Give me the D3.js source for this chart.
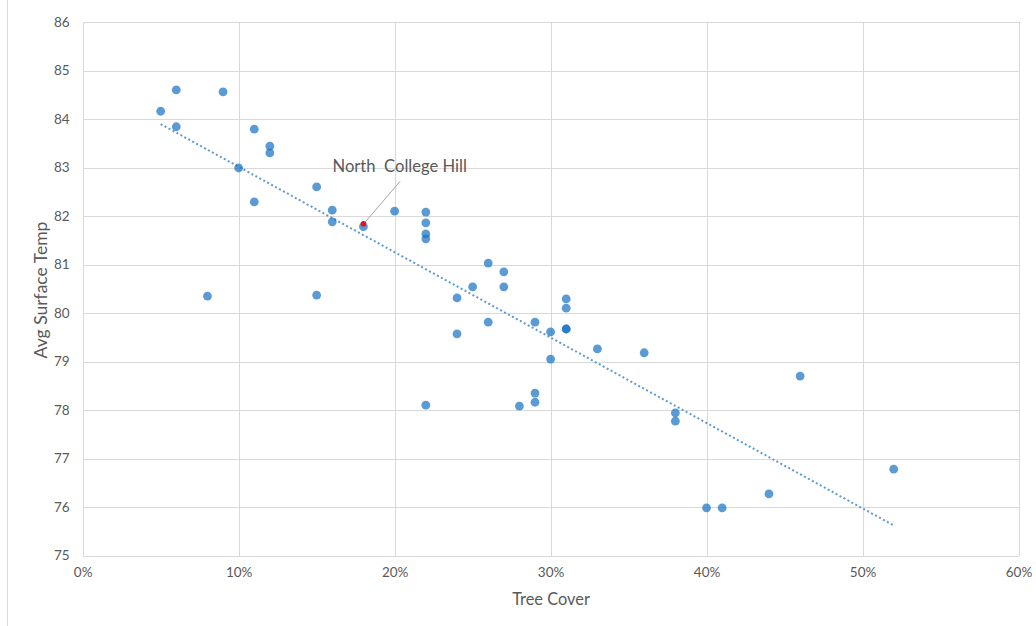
<!DOCTYPE html>
<html>
<head>
<meta charset="utf-8">
<script src="https://cdn.jsdelivr.net/npm/d3@7/dist/d3.min.js"></script>
<style>
  html, body { margin: 0; padding: 0; background: #fff; }
  svg { display: block; font-family: Lato, "Open Sans", sans-serif; }
</style>
</head>
<body>
<svg id="chart" width="1036" height="626"></svg>
<script>
// Tree cover share per neighbourhood and its average surface temperature (°F)
const treeCover = [0.05, 0.06, 0.06, 0.09, 0.11, 0.12, 0.12, 0.10, 0.11, 0.08,
  0.15, 0.15, 0.16, 0.16, 0.18, 0.20, 0.22, 0.22, 0.22, 0.22,
  0.22, 0.24, 0.24, 0.25, 0.26, 0.26, 0.27, 0.27, 0.28, 0.29,
  0.29, 0.29, 0.30, 0.30, 0.31, 0.31, 0.31, 0.31, 0.33, 0.36,
  0.38, 0.38, 0.40, 0.41, 0.44, 0.46, 0.52];
const surfaceTemp = [84.16, 84.60, 83.84, 84.56, 83.79, 83.44, 83.30, 82.99, 82.29, 80.35,
  82.60, 80.37, 82.12, 81.88, 81.78, 82.10, 82.08, 81.86, 81.63, 81.53,
  78.10, 80.31, 79.57, 80.54, 81.03, 79.81, 80.85, 80.54, 78.08, 79.81,
  78.35, 78.16, 79.61, 79.05, 80.29, 80.10, 79.67, 79.67, 79.26, 79.18,
  77.94, 77.77, 75.98, 75.98, 76.27, 78.70, 76.78];

// Highlighted neighbourhood
const highlightName = "North  College Hill";
const highlightCover = [0.18];
const highlightTemp = [81.84];

const xTicks = [0, 0.1, 0.2, 0.3, 0.4, 0.5, 0.6];
const yTicks = [75, 76, 77, 78, 79, 80, 81, 82, 83, 84, 85, 86];
const xTitle = "Tree Cover";
const yTitle = "Avg Surface Temp";

const points = treeCover.map((c, i) => ({ c, t: surfaceTemp[i] }));

const svg = d3.select("#chart");
const plotLeft = 82.7, plotRight = 1018.5, plotTop = 22, plotBottom = 555.5;
const gridColor = "#d9d9d9";
const textColor = "#595959";

const x = d3.scaleLinear().domain([0, 0.6]).range([plotLeft, plotRight]);
const y = d3.scaleLinear().domain([75, 86]).range([plotBottom, plotTop]);

// outer frame edge on the left
svg.append("line")
  .attr("x1", 7.5).attr("x2", 7.5).attr("y1", 0).attr("y2", 626)
  .attr("stroke", gridColor).attr("stroke-width", 1);

// horizontal gridlines + y tick labels
const yAxis = svg.append("g")
  .attr("transform", `translate(${plotLeft},0)`)
  .call(d3.axisLeft(y).tickValues(yTicks).tickSize(-(plotRight - plotLeft)).tickPadding(13).tickFormat(d3.format("d")));
yAxis.select(".domain").remove();
yAxis.selectAll(".tick line").attr("stroke", gridColor).attr("shape-rendering", "crispEdges");
yAxis.selectAll(".tick text").attr("fill", textColor).attr("font-size", 13.5).attr("font-family", "Lato, sans-serif");

// vertical gridlines + x tick labels
const xAxis = svg.append("g")
  .attr("transform", `translate(0,${plotBottom})`)
  .call(d3.axisBottom(x).tickValues(xTicks).tickSize(-(plotBottom - plotTop)).tickPadding(12).tickFormat(d3.format(".0%")));
xAxis.select(".domain").remove();
xAxis.selectAll(".tick line").attr("stroke", gridColor).attr("shape-rendering", "crispEdges");
xAxis.selectAll(".tick text").attr("fill", textColor).attr("font-size", 13.5).attr("font-family", "Lato, sans-serif");

// axis titles
svg.append("text")
  .attr("x", 551).attr("y", 605)
  .attr("text-anchor", "middle").attr("fill", textColor).attr("font-size", 16.4)
  .text(xTitle);
svg.append("text")
  .attr("transform", "translate(47,290) rotate(-90)")
  .attr("text-anchor", "middle").attr("fill", textColor).attr("font-size", 17.5)
  .text(yTitle);

// least-squares linear trend across the data range
const mx = d3.mean(points, d => d.c), my = d3.mean(points, d => d.t);
const slope = d3.sum(points, d => (d.c - mx) * (d.t - my)) / d3.sum(points, d => (d.c - mx) ** 2);
const intercept = my - slope * mx;
const [cMin, cMax] = d3.extent(points, d => d.c);
svg.append("line")
  .attr("x1", x(cMin)).attr("y1", y(intercept + slope * cMin))
  .attr("x2", x(cMax)).attr("y2", y(intercept + slope * cMax))
  .attr("stroke", "#5b9bd5").attr("stroke-width", 2)
  .attr("stroke-dasharray", "2,2.5");

// scatter points
svg.append("g").selectAll("circle")
  .data(points)
  .join("circle")
  .attr("cx", d => x(d.c))
  .attr("cy", d => y(d.t))
  .attr("r", 4.4)
  .attr("fill", "rgb(21,112,195)")
  .attr("fill-opacity", 0.7);

// highlighted point and its label
svg.append("g").selectAll("circle")
  .data(highlightCover.map((c, i) => ({ c, t: highlightTemp[i] })))
  .join("circle")
  .attr("cx", d => x(d.c))
  .attr("cy", d => y(d.t))
  .attr("r", 2.8)
  .attr("fill", "#e0141c");

const hx = x(highlightCover[0]), hy = y(highlightTemp[0]);
svg.append("line")
  .attr("x1", hx + 2).attr("y1", hy - 2)
  .attr("x2", 400).attr("y2", 181.5)
  .attr("stroke", "#a6a6a6").attr("stroke-width", 1);
svg.append("text")
  .attr("x", 332.5).attr("y", 172)
  .attr("fill", textColor).attr("font-size", 16.6)
  .attr("xml:space", "preserve")
  .style("white-space", "pre")
  .text(highlightName);
</script>
</body>
</html>
